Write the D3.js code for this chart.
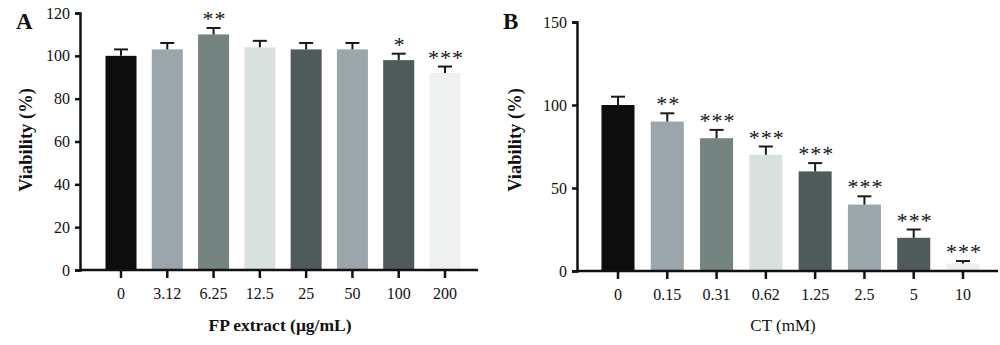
<!DOCTYPE html>
<html>
<head>
<meta charset="utf-8">
<script src="https://cdn.jsdelivr.net/npm/d3@7"></script>
<style>
    body { margin: 0; background: #fff; }
    svg text { font-family: "Liberation Serif", "DejaVu Serif", serif; fill: #111; }
</style>
</head>
<body>
<svg id="fig" width="1000" height="345"></svg>
<script>
// panel A: FP extract
const doseA = ["0", "3.12", "6.25", "12.5", "25", "50", "100", "200"];
const viabA = [100, 103, 110, 104, 103, 103, 98, 92];
const errA = [3, 3, 3, 3, 3, 3, 3, 3];
const starsA = ["", "", "**", "", "", "", "*", "***"];
const ticksA = [0, 20, 40, 60, 80, 100, 120];

// panel B: CT
const doseB = ["0", "0.15", "0.31", "0.62", "1.25", "2.5", "5", "10"];
const viabB = [100, 90, 80, 70, 60, 40, 20, 4.5];
const errB = [5, 5, 5, 5, 5, 5, 5, 1.5];
const starsB = ["", "**", "***", "***", "***", "***", "***", "***"];
const ticksB = [0, 50, 100, 150];

const fills = ["#0c0d0c", "#9aa6a9", "#748480", "#d9e1df", "#4f5b5a", "#9aa6a9", "#4f5b5a", "#eef1f0"];

const svg = d3.select('#fig');

function panel(o) {
    const g = svg.append('g');

    // band range is the first/last bar centre padded by half a step
    const step = (o.c1 - o.c0) / (o.cats.length - 1);
    const x = d3.scaleBand()
        .domain(o.cats)
        .range([o.c0 - step / 2, o.c1 + step / 2])
        .paddingInner(o.inner)
        .paddingOuter(o.inner / 2);

    const y = d3.scaleLinear()
        .domain([0, o.ymax])
        .range([o.yb, o.yt]);

    // bars
    g.selectAll('rect.bar')
        .data(o.vals)
        .join('rect')
        .attr('class', 'bar')
        .attr('x', (d, i) => x(o.cats[i]))
        .attr('width', x.bandwidth())
        .attr('y', d => y(d))
        .attr('height', d => y(0) - y(d))
        .attr('fill', (d, i) => fills[i]);

    // error bars (upper only)
    const cap = 7;
    o.vals.forEach((v, i) => {
        const cx = x(o.cats[i]) + x.bandwidth() / 2;
        const top = y(v + o.err[i]);
        g.append('line')
            .attr('x1', cx).attr('x2', cx)
            .attr('y1', y(v)).attr('y2', top)
            .attr('stroke', '#1a1a1a').attr('stroke-width', 2);
        g.append('line')
            .attr('x1', cx - cap).attr('x2', cx + cap)
            .attr('y1', top).attr('y2', top)
            .attr('stroke', '#1a1a1a').attr('stroke-width', 2);
        if (o.stars[i]) {
            g.append('text')
                .attr('x', cx + 1)
                .attr('y', top - 2)
                .attr('text-anchor', 'middle')
                .attr('font-size', 22)
                .attr('font-family', 'DejaVu Sans')
                .attr('letter-spacing', 1)
                .attr('fill', '#1b2226')
                .text(o.stars[i]);
        }
    });

    // y axis
    const ya = g.append('g')
        .attr('transform', `translate(${o.x0},0)`)
        .call(d3.axisLeft(y).tickValues(o.ticks).tickSize(5).tickPadding(5));
    ya.select('.domain').attr('stroke', '#111').attr('stroke-width', 2.5);
    ya.selectAll('.tick line').attr('stroke', '#111').attr('stroke-width', 2.5);
    ya.selectAll('.tick text').attr('font-size', 16).attr('font-family', null);

    // x axis
    const xa = g.append('g')
        .attr('transform', `translate(0,${o.yb})`)
        .call(d3.axisBottom(x).tickSizeInner(8).tickSizeOuter(0).tickPadding(10));
    xa.select('.domain').attr('stroke', '#111').attr('stroke-width', 2.5)
        .attr('d', `M${o.x0},0H${o.x1}`);
    xa.selectAll('.tick line').attr('stroke', '#111').attr('stroke-width', 2.5);
    xa.selectAll('.tick text').attr('font-size', 16).attr('font-family', null);

    // titles
    g.append('text')
        .attr('transform', `translate(${o.ylabX},${o.ylabY}) rotate(-90)`)
        .attr('text-anchor', 'middle')
        .attr('font-size', 18.5)
        .attr('font-weight', 'bold')
        .text('Viability (%)');

    g.append('text')
        .attr('x', o.xlabX)
        .attr('y', 331)
        .attr('text-anchor', 'middle')
        .attr('font-size', o.xlabBold ? 17.5 : 17)
        .attr('font-weight', o.xlabBold ? 'bold' : 'normal')
        .text(o.xlab);

    g.append('text')
        .attr('x', o.letterX)
        .attr('y', 29)
        .attr('font-size', 23)
        .attr('font-weight', 'bold')
        .text(o.letter);
}

panel({
    cats: doseA, vals: viabA, err: errA, stars: starsA, ticks: ticksA,
    x0: 80, x1: 478, c0: 121, c1: 445, inner: 0.33, ymax: 120, yb: 270, yt: 13,
    ylabX: 32, ylabY: 140, xlab: 'FP extract (μg/mL)', xlabX: 280, xlabBold: true,
    letter: 'A', letterX: 16
});

panel({
    cats: doseB, vals: viabB, err: errB, stars: starsB, ticks: ticksB,
    x0: 577, x1: 998, c0: 618, c1: 963, inner: 0.33, ymax: 150, yb: 271, yt: 22,
    ylabX: 521, ylabY: 140, xlab: 'CT (mM)', xlabX: 783, xlabBold: false,
    letter: 'B', letterX: 503
});
</script>
</body>
</html>
